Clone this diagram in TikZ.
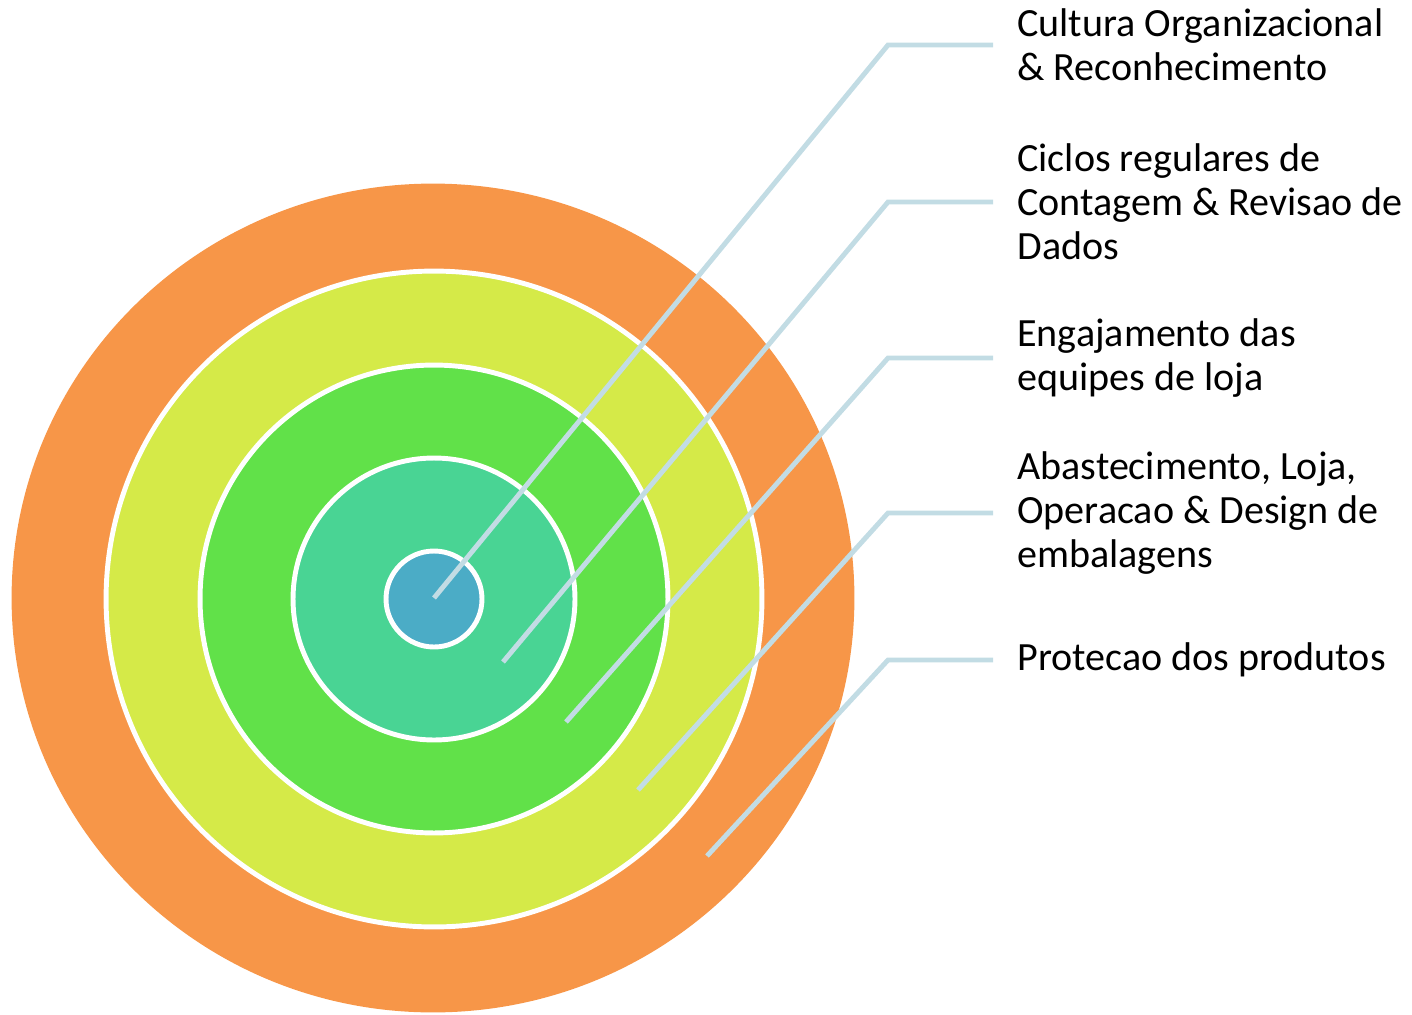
\documentclass[tikz,border=0pt]{standalone}
\usepackage{fontspec}
\setmainfont{Carlito}
\usetikzlibrary{positioning}

\definecolor{ringorange}{RGB}{247,150,72}
\definecolor{ringlime}{RGB}{213,234,72}
\definecolor{ringgreen}{RGB}{97,225,73}
\definecolor{ringteal}{RGB}{73,212,148}
\definecolor{ringblue}{RGB}{75,172,198}
\definecolor{leadercol}{RGB}{194,220,228}

\tikzset{
  ring/.style={draw=white,line width=2.8pt},
  leader/.style={draw=leadercol,line width=2.8pt,shorten >=0.48cm},
  layer/.style={anchor=west,align=left,inner sep=0pt,
    font=\fontsize{22.8}{25}\selectfont}
}

\begin{document}
\begin{tikzpicture}[x=0.02cm,y=-0.02cm]
  \useasboundingbox (0,0) rectangle (1412,1014);
  % the rings, outside in
  \fill[ringorange] (433,598) ellipse [x radius=8.43cm,y radius=8.29cm];
  \path[ring,fill=ringlime] (434,599) circle (6.56cm);
  \path[ring,fill=ringgreen] (434,599) circle (4.68cm);
  \path[ring,fill=ringteal] (434,599) circle (2.82cm);
  \path[ring,fill=ringblue] (434,599) circle (0.96cm);

  % labels on the right
  \path (1017,45) node[layer] (l1) {Cultura Organizacional\\\& Reconhecimento}
    (1017,202) node[layer] (l2) {Ciclos regulares de\\Contagem \& Revisao de\\Dados}
    (1017,358) node[layer] (l3) {Engajamento das\\equipes de loja}
    (1017,513) node[layer] (l4) {Abastecimento, Loja,\\Operacao \& Design de\\embalagens}
    (1017,660) node[layer] (l5) {Protecao dos produtos};

  % ends inside the rings and the bends
  \path (434,598) coordinate (p1) (503,662) coordinate (p2) (566,722) coordinate (p3)
    (638,790) coordinate (p4) (707,856) coordinate (p5);
  \path (888,45) coordinate (k1) (888,202) coordinate (k2) (888,358) coordinate (k3)
    (888,513) coordinate (k4) (888,660) coordinate (k5);

  \draw[leader] (p1) -- (k1) -- (l1.west);
  \draw[leader] (p2) -- (k2) -- (l2.west);
  \draw[leader] (p3) -- (k3) -- (l3.west);
  \draw[leader] (p4) -- (k4) -- (l4.west);
  \draw[leader] (p5) -- (k5) -- (l5.west);
\end{tikzpicture}
\end{document}
